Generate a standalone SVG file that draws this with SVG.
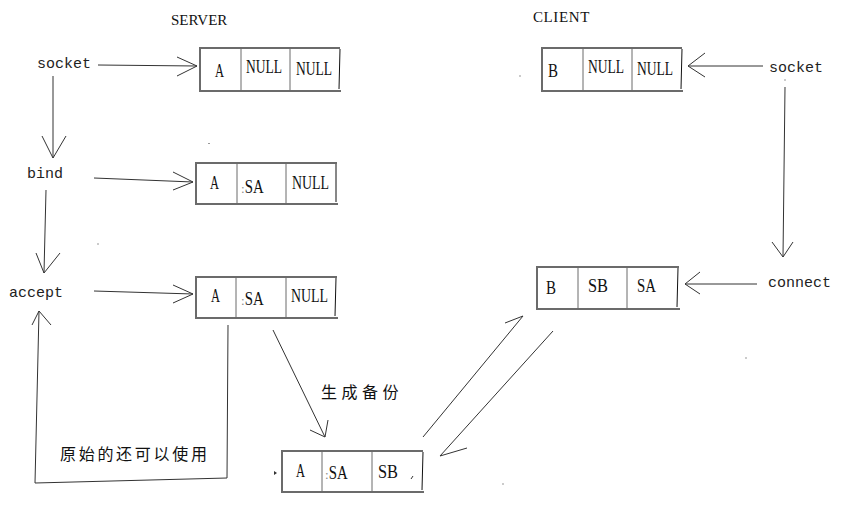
<svg xmlns="http://www.w3.org/2000/svg" width="850" height="509" viewBox="0 0 850 509">
<style>
.frame{fill:none;stroke:#6b6b6b;stroke-width:2}
.div{stroke:#6b6b6b;stroke-width:1}
.redge{stroke:#111;stroke-width:1}
.cell{font-family:"Liberation Serif","Times New Roman",serif;font-size:19px;fill:#111}
.lbl{font-family:"Liberation Mono","DejaVu Sans Mono",monospace;font-size:15px;fill:#222}
.ttl{font-family:"Liberation Serif","Times New Roman",serif;font-size:15px;fill:#111}
.cjk{font-family:"Noto Sans CJK SC","Noto Sans CJK JP",sans-serif;font-size:16px;fill:#111}
.ln{fill:none;stroke:#333;stroke-width:1}
.dot{fill:#333}
.faint{fill:#888}
</style>
<rect width="850" height="509" fill="#fff"/>

<g id="titles">
<text class="ttl" x="171" y="25">SERVER</text>
<text class="ttl" x="533" y="22" letter-spacing="0.6">CLIENT</text>
</g>

<g id="labels">
<text class="lbl" x="37" y="68">socket</text>
<text class="lbl" x="27" y="178">bind</text>
<text class="lbl" x="9" y="297">accept</text>
<text class="lbl" x="769" y="72">socket</text>
<text class="lbl" x="768" y="287">connect</text>
<text class="cjk" x="321" y="398" font-size="15" letter-spacing="4.5">生成备份</text>
<text class="cjk" x="60" y="460" letter-spacing="2.7">原始的还可以使用</text>
</g>

<g id="server-socket-box">
<path class="frame" d="M340,48 H200 V91 H341"/>
<line class="redge" x1="340" y1="49" x2="339" y2="89"/>
<line class="div" x1="241" y1="48" x2="241" y2="91"/>
<line class="div" x1="290" y1="48" x2="290" y2="91"/>
<text class="cell" x="215" y="77" textLength="9" lengthAdjust="spacingAndGlyphs">A</text>
<text class="cell" x="246" y="73" textLength="36" lengthAdjust="spacingAndGlyphs">NULL</text>
<text class="cell" x="296" y="75" textLength="36" lengthAdjust="spacingAndGlyphs">NULL</text>
</g>

<g id="server-bind-box">
<path class="frame" d="M337,163 H196 V204 H338"/>
<line class="redge" x1="336" y1="164" x2="336" y2="202"/>
<line class="div" x1="237" y1="163" x2="237" y2="204"/>
<line class="div" x1="286" y1="163" x2="286" y2="204"/>
<text class="cell" x="210" y="189" textLength="9" lengthAdjust="spacingAndGlyphs">A</text>
<text class="cell" x="241" y="193"><tspan class="faint" font-size="13">:</tspan><tspan textLength="19" lengthAdjust="spacingAndGlyphs">SA</tspan></text>
<text class="cell" x="292" y="189" textLength="37" lengthAdjust="spacingAndGlyphs">NULL</text>
</g>

<g id="server-accept-box">
<path class="frame" d="M337,277 H196 V318 H338"/>
<line class="redge" x1="336" y1="278" x2="335" y2="316"/>
<line class="div" x1="236" y1="277" x2="236" y2="318"/>
<line class="div" x1="286" y1="277" x2="286" y2="318"/>
<text class="cell" x="211" y="302" textLength="9" lengthAdjust="spacingAndGlyphs">A</text>
<text class="cell" x="241" y="305"><tspan class="faint" font-size="13">:</tspan><tspan textLength="19" lengthAdjust="spacingAndGlyphs">SA</tspan></text>
<text class="cell" x="291" y="302" textLength="37" lengthAdjust="spacingAndGlyphs">NULL</text>
</g>

<g id="copy-box">
<path class="frame" d="M423,451 H282 V492 H424"/>
<line class="redge" x1="423" y1="452" x2="422" y2="490"/>
<line class="div" x1="322" y1="451" x2="322" y2="492"/>
<line class="div" x1="372" y1="451" x2="372" y2="492"/>
<text class="cell" x="296" y="477" textLength="9" lengthAdjust="spacingAndGlyphs">A</text>
<text class="cell" x="325" y="479"><tspan class="faint" font-size="13">:</tspan><tspan textLength="19" lengthAdjust="spacingAndGlyphs">SA</tspan></text>
<text class="cell" x="378" y="478" textLength="20" lengthAdjust="spacingAndGlyphs">SB</text>
<line class="ln" x1="411" y1="479" x2="413" y2="476"/>
<path class="dot" d="M274,471 L277,473 L274,475 Z"/>
</g>

<g id="client-socket-box">
<path class="frame" d="M682,48 H542 V91 H683"/>
<line class="redge" x1="682" y1="49" x2="681" y2="89"/>
<line class="div" x1="583" y1="48" x2="583" y2="91"/>
<line class="div" x1="632" y1="48" x2="632" y2="91"/>
<text class="cell" x="548" y="77" textLength="10" lengthAdjust="spacingAndGlyphs">B</text>
<text class="cell" x="588" y="73" textLength="36" lengthAdjust="spacingAndGlyphs">NULL</text>
<text class="cell" x="637" y="75" textLength="36" lengthAdjust="spacingAndGlyphs">NULL</text>
</g>

<g id="client-connect-box">
<path class="frame" d="M679,267 H537 V309 H680"/>
<line class="redge" x1="678" y1="268" x2="677" y2="307"/>
<line class="div" x1="578" y1="267" x2="578" y2="309"/>
<line class="div" x1="627" y1="267" x2="627" y2="309"/>
<text class="cell" x="546" y="294" textLength="10" lengthAdjust="spacingAndGlyphs">B</text>
<text class="cell" x="588" y="292" textLength="20" lengthAdjust="spacingAndGlyphs">SB</text>
<text class="cell" x="637" y="292" textLength="19" lengthAdjust="spacingAndGlyphs">SA</text>
</g>

<g id="connectors">
<path class="ln" d="M98,65 L197,66 M177,57 L197,66 L177,76"/>
<path class="ln" d="M94,178 L193,182 M173,172 L193,182 L173,190"/>
<path class="ln" d="M94,291 L193,294 M173,285 L193,294 L173,303"/>
<path class="ln" d="M53,76 L53,158 M42,136 L53,158 L66,136"/>
<path class="ln" d="M46,190 L44,273 M36,253 L44,273 L60,253"/>
<path class="ln" d="M228,325 L227,478 L35,483 L39,311 M32,325 L39,311 L51,325"/>
<path class="ln" d="M273,330 L325,437 M310,430 L325,437 L328,420"/>
<path class="ln" d="M423,437 L523,316 L505,323"/>
<path class="ln" d="M553,331 L440,456 L467,448"/>
<path class="ln" d="M763,66 L688,66 M705,53 L688,66 L705,77"/>
<path class="ln" d="M785,87 L783,257 M772,242 L783,257 L793,242"/>
<path class="ln" d="M757,284 L685,284 M700,272 L685,284 L700,294"/>
</g>

<g id="specks">
<rect class="dot" x="208.5" y="143" width="1" height="1"/>
<rect class="dot" x="519.5" y="75.5" width="1" height="1"/>
<rect class="dot" x="97.5" y="243.5" width="1" height="1"/>
<rect class="dot" x="745.5" y="357.5" width="1" height="1"/>
<rect class="dot" x="502.5" y="483.5" width="1" height="1"/>
<rect class="dot" x="784.5" y="79.5" width="1" height="1"/>
</g>
</svg>
